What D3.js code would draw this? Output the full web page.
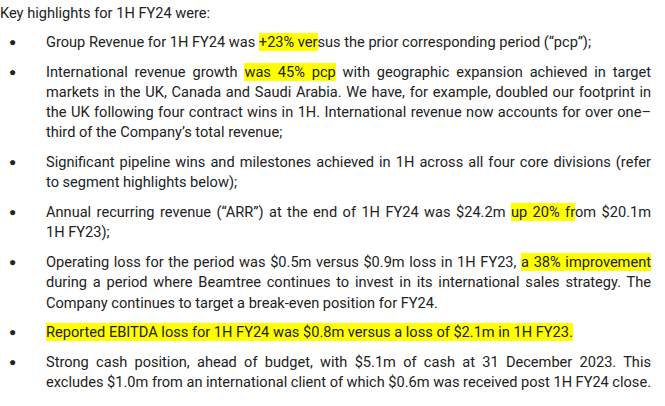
<!DOCTYPE html>
<html lang="en">
<head>
  <meta charset="utf-8">
  <script src="https://cdn.jsdelivr.net/npm/d3@7"></script>
  <style>
      body   { margin: 0; background: #fff; font-family: Roboto, sans-serif; font-size: 14.6px; color: #222; }
      #page  { position: relative; width: 665px; height: 406px; overflow: hidden; }
      .line  { position: absolute; left: 46px; white-space: nowrap; line-height: 20px; }
      .bullet{ position: absolute; left: 9px; font-size: 12px; line-height: 20px; }
      .hl    { background: #ffff00; }
  </style>
</head>
<body>
<div id="page"></div>
<script>
    // Heading and paragraphs; each line is a list of [text, highlighted] pieces.
    var heading = "Key highlights for 1H FY24 were:";

    var paragraphs = [
        [ [["Group Revenue for 1H FY24 was ",0],["+23% ver",1],["sus the prior corresponding period (\u201cpcp\u201d);",0]] ],
        [ [["International revenue growth ",0],["was 45% pcp",1],[" with geographic expansion achieved in target",0]],
          [["markets in the UK, Canada and Saudi Arabia. We have, for example, doubled our footprint in",0]],
          [["the UK following four contract wins in 1H. International revenue now accounts for over one\u2013",0]],
          [["third of the Company\u2019s total revenue;",0]] ],
        [ [["Significant pipeline wins and milestones achieved in 1H across all four core divisions (refer",0]],
          [["to segment highlights below);",0]] ],
        [ [["Annual recurring revenue (\u201cARR\u201d) at the end of 1H FY24 was $24.2m ",0],["up 20% fr",1],["om $20.1m",0]],
          [["1H FY23);",0]] ],
        [ [["Operating loss for the period was $0.5m versus $0.9m loss in 1H FY23, ",0],["a 38% improvement",1]],
          [["during a period where Beamtree continues to invest in its international sales strategy. The",0]],
          [["Company continues to target a break-even position for FY24.",0]] ],
        [ [["Reported EBITDA loss for 1H FY24 was $0.8m versus a loss of $2.1m in 1H FY23.",1]] ],
        [ [["Strong cash position, ahead of budget, with $5.1m of cash at 31 December 2023. This",0]],
          [["excludes $1.0m from an international client of which $0.6m was received post 1H FY24 close.",0]] ]
    ];

    var firstY = 42, lineGap = 20.2, paraGap = 29.8, fullWidth = 605;

    var page = d3.select('#page');
    page.append('div').attr('class', 'line').style('left', '0px')
        .style('top', (13 - 10) + 'px').text(heading);

    // Stretch or squeeze a line to the full width through its word spacing
    function fit(div, always) {
        var node = div.node();
        var w = node.getBoundingClientRect().width;
        if (!always && w <= fullWidth) return;
        var text = node.textContent;
        var spaces = (text.match(/ /g) || []).length;
        if (spaces) div.style('word-spacing', ((fullWidth - w) / spaces) + 'px');
    }

    var y = firstY;
    paragraphs.forEach(function(p, pi) {
        page.append('div').attr('class', 'bullet').style('top', (y - 10) + 'px').text('\u25CF');
        p.forEach(function(line, li) {
            var isLast = li === p.length - 1;
            var div = page.append('div')
                .attr('class', 'line')
                .style('top', (y - 10) + 'px');
            div.selectAll('span').data(line).enter().append('span')
                .attr('class', function(d){ return d[1] ? 'hl' : null; })
                .text(function(d){ return d[0]; });
            fit(div, !isLast || (pi === 4 && li === 0) || (pi === 6));
            if (!isLast) y += lineGap;
        });
        y += paraGap;
    });
</script>
</body>
</html>
